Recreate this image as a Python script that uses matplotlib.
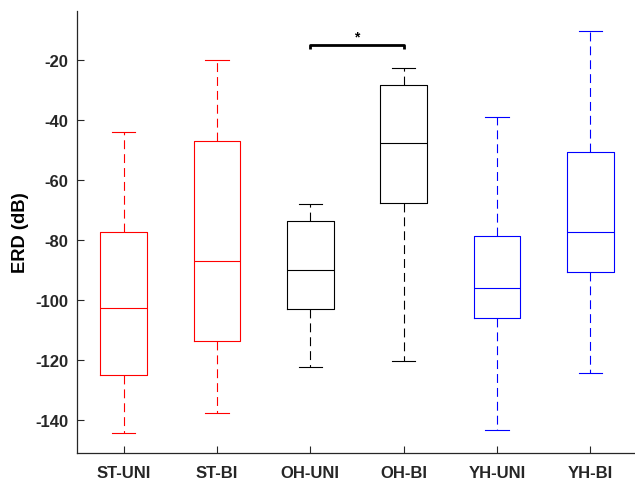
import numpy as np
import matplotlib
matplotlib.use('Agg')
import matplotlib.pyplot as plt

plt.rcParams['font.family'] = ['Liberation Sans', 'DejaVu Sans']
plt.rcParams['axes.unicode_minus'] = False

groups = ['ST-UNI', 'ST-BI', 'OH-UNI', 'OH-BI', 'YH-UNI', 'YH-BI']
colors = ['red', 'red', 'black', 'black', 'blue', 'blue']

# box stats (dB)
whis_hi = [-44.1, -20.0, -68.2, -22.7, -39.1, -10.6]
q3 = [-77.3, -47.1, -73.8, -28.4, -78.6, -50.7]
med = [-102.8, -87.0, -90.2, -47.8, -96.1, -77.4]
q1 = [-125.1, -113.6, -103.0, -67.7, -106.0, -90.7]
whis_lo = [-144.3, -137.6, -122.2, -120.2, -143.2, -124.3]

fig = plt.figure(figsize=(6.35, 4.81), dpi=100)
ax = fig.add_axes([77/635, 27/481, 560/635, 442/481])

for i in range(len(groups)):
    st = [{'med': med[i], 'q1': q1[i], 'q3': q3[i],
           'whislo': whis_lo[i], 'whishi': whis_hi[i], 'fliers': []}]
    c = colors[i]
    ax.bxp(st, positions=[i + 1], widths=0.5, showfliers=False,
           boxprops=dict(color=c, lw=0.8),
           medianprops=dict(color=c, lw=0.8),
           whiskerprops=dict(color=c, lw=0.8, ls=(0, (8, 4.5))),
           capprops=dict(color=c, lw=0.8), capwidths=0.25)

# significance bracket between OH-UNI and OH-BI
by = -15.1
ax.plot([3, 3, 4, 4], [by - 1.4, by, by, by - 1.4], color='black', lw=2,
        solid_capstyle='butt')
ax.text(3.5, by + 0.4, '*', ha='center', va='bottom', fontsize=10,
        fontweight='bold')

ax.set_xlim(0.5, 6.5)
ax.set_ylim(-151, -3.8)
ax.set_yticks([-140, -120, -100, -80, -60, -40, -20])
ax.set_xticks(range(1, 7))
ax.set_xticklabels(groups)
ax.set_ylabel('ERD (dB)', fontsize=13.2, fontweight='bold', labelpad=5)

for s in ['top', 'right']:
    ax.spines[s].set_visible(False)
for s in ['left', 'bottom']:
    ax.spines[s].set_color('0.15')
    ax.spines[s].set_linewidth(0.9)
ax.tick_params(direction='in', length=5, width=0.8, color='0.15',
               labelsize=12)
ax.tick_params(axis='x', pad=9)
ax.tick_params(axis='y', pad=6)
for lab in ax.get_xticklabels() + ax.get_yticklabels():
    lab.set_fontweight('bold')
    lab.set_color('0.15')

fig.savefig('out.png', dpi=100)
